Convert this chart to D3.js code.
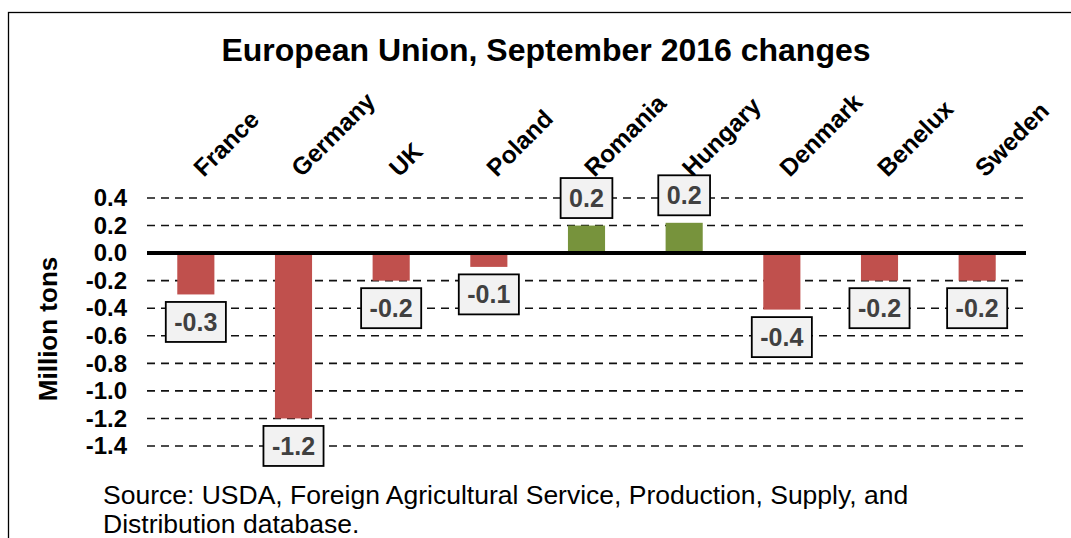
<!DOCTYPE html>
<html>
<head>
<meta charset="utf-8">
<script src="https://cdn.jsdelivr.net/npm/d3@7"></script>
<style>
  body { margin: 0; background: #fff; }
  svg { display: block; font-family: "Liberation Sans", Arial, sans-serif; }
</style>
</head>
<body>
<svg width="1071" height="538"></svg>
<script>
// data
const countries = ["France", "Germany", "UK", "Poland", "Romania", "Hungary", "Denmark", "Benelux", "Sweden"];
const changes = [-0.3, -1.2, -0.2, -0.1, 0.2, 0.22, -0.41, -0.2, -0.2];
const yTicks = [0.4, 0.2, 0.0, -0.2, -0.4, -0.6, -0.8, -1.0, -1.2, -1.4];
const title = "European Union, September 2016 changes";
const yTitle = "Million tons";
const sourceLines = ["Source: USDA, Foreign Agricultural Service, Production, Supply, and",
                     "Distribution database."];

var svg = d3.select("svg"),
    width = +svg.attr("width"),
    height = +svg.attr("height");

var fmt = v => v.toFixed(1);

// outer frame (runs off the right and bottom edges)
svg.append("rect")
    .attr("x", 8.5).attr("y", 12.5)
    .attr("width", 1100).attr("height", 600)
    .attr("fill", "none")
    .attr("stroke", "#000")
    .attr("stroke-width", 1.3);

var x = d3.scaleBand()
    .domain(countries)
    .range([147, 1026])
    .paddingInner(0.62)
    .paddingOuter(0.31);

var y = d3.scaleLinear()
    .domain([-1.4, 0.4])
    .range([446, 198]);

// title
svg.append("text")
    .attr("x", 546).attr("y", 61)
    .attr("text-anchor", "middle")
    .attr("font-size", 32)
    .attr("font-weight", "bold")
    .text(title);

// dashed gridlines
svg.append("g")
    .selectAll("line")
    .data(yTicks.filter(d => d !== 0))
    .enter().append("line")
      .attr("x1", 147).attr("x2", 1023)
      .attr("y1", d => y(d)).attr("y2", d => y(d))
      .attr("stroke", "#111")
      .attr("stroke-width", 1.6)
      .attr("stroke-dasharray", "8,6");

// y axis labels
var yAxis = svg.append("g")
    .attr("transform", "translate(127,0)")
    .call(d3.axisLeft(y).tickValues(yTicks).tickFormat(fmt).tickSize(0).tickPadding(0));
yAxis.select(".domain").remove();
yAxis.selectAll("text")
    .attr("font-family", "Liberation Sans, Arial, sans-serif")
    .attr("font-size", 24)
    .attr("font-weight", "bold")
    .attr("fill", "#000");

// y title
svg.append("text")
    .attr("transform", "translate(57,329) rotate(-90)")
    .attr("text-anchor", "middle")
    .attr("font-size", 26)
    .attr("font-weight", "bold")
    .text(yTitle);

// bars
svg.append("g")
    .selectAll("rect")
    .data(countries)
    .enter().append("rect")
      .attr("x", d => x(d))
      .attr("width", x.bandwidth())
      .attr("y", (d, i) => y(Math.max(0, changes[i])))
      .attr("height", (d, i) => Math.abs(y(changes[i]) - y(0)))
      .attr("fill", (d, i) => changes[i] < 0 ? "#c0504d" : "#77933c");

// zero line
svg.append("line")
    .attr("x1", 147).attr("x2", 1026)
    .attr("y1", y(0)).attr("y2", y(0))
    .attr("stroke", "#000")
    .attr("stroke-width", 4);

// category labels, rotated
svg.append("g")
    .selectAll("text")
    .data(countries)
    .enter().append("text")
      .attr("transform", d => "translate(" + (x(d) + x.bandwidth() / 2 + 8) + ",178) rotate(-45)")
      .attr("font-size", 24.5)
      .attr("font-weight", "bold")
      .text(d => d);

// value labels in boxes
var fs = 25;
var lab = svg.append("g")
    .selectAll("g")
    .data(countries)
    .enter().append("g");

lab.each(function(d, i) {
    var g = d3.select(this);
    var v = changes[i];
    var cx = x(d) + x.bandwidth() / 2;
    var t = g.append("text")
        .attr("text-anchor", "middle")
        .attr("font-size", fs)
        .attr("font-weight", "bold")
        .attr("fill", "#404040")
        .text(fmt(v));
    var w = t.node().getComputedTextLength() + 17;
    var h = 40;
    var top = v < 0 ? y(v) + 7.5 : y(v) - 7.5 - h;
    g.insert("rect", "text")
        .attr("x", cx - w / 2).attr("y", top)
        .attr("width", w).attr("height", h)
        .attr("fill", "#f2f2f2")
        .attr("stroke", "#000")
        .attr("stroke-width", 1.8);
    t.attr("x", cx).attr("y", top + h / 2 + fs * 0.36);
});

// source note
svg.append("g")
    .selectAll("text")
    .data(sourceLines)
    .enter().append("text")
      .attr("x", 103)
      .attr("y", (d, i) => 504 + i * 28.5)
      .attr("font-size", 26.5)
      .attr("fill", "#000")
      .text(d => d);
</script>
</body>
</html>
